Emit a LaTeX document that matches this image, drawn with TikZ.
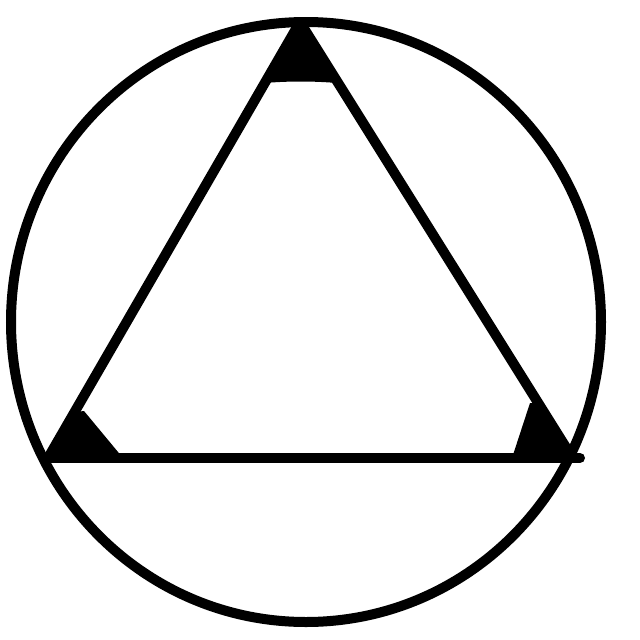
\documentclass[tikz,border=0pt]{standalone}
\begin{document}
\begin{tikzpicture}[x=1pt,y=-1pt,
  stroke/.style={line width=10pt,black},
  mark/.style={}]
\useasboundingbox (0,0) rectangle (640,640);
\fill[white] (0,0) rectangle (640,640);
% angle markers
\fill[black] (300,22) -- (264,83) .. controls (290,81) and (312,81) .. (337,83) -- cycle;
\fill[black] (48,458) -- (75,412) -- (84,411) -- (123,458) -- cycle;
\fill[black] (572,455) -- (539,403) -- (530,403) -- (512,458) -- cycle;
% circle
\draw[stroke] (306,322) ellipse [x radius=295, y radius=300];
% triangle
\coordinate (A) at (300,22);
\coordinate (B) at (48,458);
\coordinate (C) at (572,457);
\coordinate (D) at (580,458);
\draw[stroke,line join=round] (B) -- (A) -- (C);
\draw[stroke,line cap=round] (B) -- (D);
\end{tikzpicture}
\end{document}
